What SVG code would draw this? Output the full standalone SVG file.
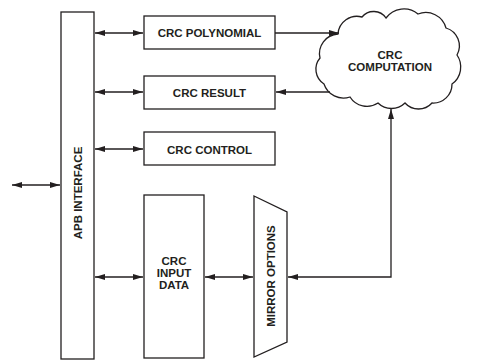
<svg xmlns="http://www.w3.org/2000/svg" width="501" height="362" viewBox="0 0 501 362">
<style>
.box{fill:#fff;stroke:#231f20;stroke-width:1.3}
.lbl{font-family:"Liberation Sans",Arial,sans-serif;font-weight:bold;font-size:11.5px;fill:#231f20;text-anchor:middle}
.ln{fill:none;stroke:#231f20;stroke-width:1.3}
</style>
<defs>
<marker id="ah" viewBox="0 0 10 6" refX="10" refY="3" markerWidth="10" markerHeight="6" orient="auto-start-reverse" markerUnits="userSpaceOnUse">
<path d="M0,0 L10,3 L0,6 Z" fill="#231f20"/>
</marker>
</defs>
<rect width="501" height="362" fill="#fff"/>
<g id="apb">
<rect class="box" x="61" y="12" width="33" height="347"/>
<text class="lbl" transform="translate(81.8,193) rotate(-90)">APB INTERFACE</text>
</g>
<g id="poly">
<rect class="box" x="144" y="16" width="131" height="33"/>
<text class="lbl" x="209.5" y="37">CRC POLYNOMIAL</text>
</g>
<g id="result">
<rect class="box" x="144" y="76" width="131" height="33"/>
<text class="lbl" x="209.5" y="97">CRC RESULT</text>
</g>
<g id="control">
<rect class="box" x="144" y="132" width="131" height="33"/>
<text class="lbl" x="209.5" y="154">CRC CONTROL</text>
</g>
<g id="input">
<rect class="box" x="144" y="195" width="60" height="163"/>
<text class="lbl" x="174" y="265">CRC</text>
<text class="lbl" x="174" y="277">INPUT</text>
<text class="lbl" x="174" y="289">DATA</text>
</g>
<g id="mirror">
<polygon class="box" points="254,196 287,212 287,342 254,357"/>
<text class="lbl" transform="translate(275,276) rotate(-90)">MIRROR OPTIONS</text>
</g>
<g id="cloud">
<path class="box" d="M338,34 A19,19 0 0,1 362,17 A15,15 0 0,1 386,18 A22,22 0 0,1 418,14 A21,21 0 0,1 446,28 A18.7,18.7 0 0,1 457,55 A21,21 0 0,1 452,84 A18.8,18.8 0 0,1 432,103 A18.2,18.2 0 0,1 405,103 A19.3,19.3 0 0,1 378,103 A20,20 0 0,1 350,97 A20.5,20.5 0 0,1 324,84 A17.5,17.5 0 0,1 320,58 A19.6,19.6 0 0,1 338,34 Z"/>
<text class="lbl" x="390" y="59">CRC</text>
<text class="lbl" x="390" y="71">COMPUTATION</text>
</g>
<g id="connectors">
<line class="ln" x1="12" y1="185" x2="60" y2="185" marker-start="url(#ah)" marker-end="url(#ah)"/>
<line class="ln" x1="95" y1="33" x2="143" y2="33" marker-start="url(#ah)" marker-end="url(#ah)"/>
<line class="ln" x1="95" y1="92" x2="143" y2="92" marker-start="url(#ah)" marker-end="url(#ah)"/>
<line class="ln" x1="95" y1="149" x2="143" y2="149" marker-start="url(#ah)" marker-end="url(#ah)"/>
<line class="ln" x1="95" y1="277" x2="143" y2="277" marker-start="url(#ah)" marker-end="url(#ah)"/>
<line class="ln" x1="205" y1="277" x2="253" y2="277" marker-start="url(#ah)" marker-end="url(#ah)"/>
<line class="ln" x1="275" y1="33" x2="339" y2="33" marker-end="url(#ah)"/>
<line class="ln" x1="330" y1="92" x2="276" y2="92" marker-end="url(#ah)"/>
<polyline class="ln" points="288,277 391,277 391,109" marker-start="url(#ah)" marker-end="url(#ah)"/>
</g>
</svg>
